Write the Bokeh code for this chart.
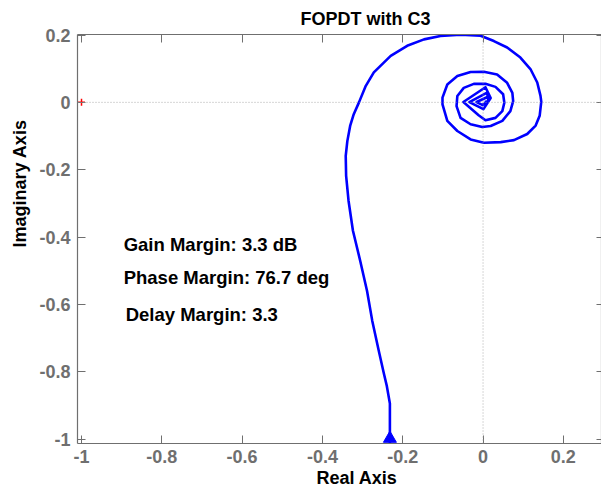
from bokeh.plotting import figure
from bokeh.models import Range1d, LinearAxis, FixedTicker, Span, Title, CustomJSTickFormatter
from bokeh.embed import file_html
from bokeh.resources import INLINE
from bokeh.core.properties import value

# ---- data ----
title_text = "FOPDT with C3"
x_label = "Real Axis"
y_label = "Imaginary Axis"
x_ticks = [-1, -0.8, -0.6, -0.4, -0.2, 0, 0.2]
x_tick_labels = ["-1", "-0.8", "-0.6", "-0.4", "-0.2", "0", "0.2"]
y_ticks = [-1, -0.8, -0.6, -0.4, -0.2, 0, 0.2]
y_tick_labels = ["-1", "-0.8", "-0.6", "-0.4", "-0.2", "0", "0.2"]

nyq_re = [-0.232, -0.232, -0.232, -0.240, -0.247, -0.260, -0.276, -0.289, -0.306, -0.324,
          -0.335, -0.341, -0.342, -0.338, -0.331, -0.322, -0.309, -0.292, -0.272, -0.230,
          -0.189, -0.147, -0.106, -0.056, -0.006, 0.027, 0.060, 0.093, 0.118, 0.135,
          0.143, 0.145, 0.141, 0.131, 0.110, 0.077, 0.044, 0.002, -0.031, -0.064,
          -0.089, -0.101, -0.101, -0.089, -0.064, -0.031, 0.002, 0.035, 0.060, 0.073,
          0.075, 0.068, 0.048, 0.019, -0.002, -0.031, -0.056, -0.066, -0.064, -0.048,
          -0.023, 0.006, 0.031, 0.050, 0.053, 0.048, 0.031, 0.006, -0.011, -0.049,
          0.006, 0.019, 0.001, -0.034, 0.009, 0.016, -0.001, -0.016, 0.011, 0.014, 0.004]
nyq_im = [-1.092, -1.012, -0.894, -0.840, -0.805, -0.736, -0.648, -0.559, -0.470, -0.381,
          -0.292, -0.218, -0.159, -0.115, -0.070, -0.035, 0.000, 0.049, 0.089, 0.138,
          0.168, 0.187, 0.197, 0.201, 0.198, 0.182, 0.163, 0.133, 0.099, 0.059,
          0.020, 0.002, -0.040, -0.069, -0.094, -0.112, -0.118, -0.120, -0.110, -0.085,
          -0.055, -0.006, 0.014, 0.053, 0.078, 0.090, 0.091, 0.083, 0.058, 0.028,
          0.004, -0.026, -0.055, -0.070, -0.073, -0.065, -0.046, -0.011, 0.019, 0.043,
          0.055, 0.055, 0.046, 0.024, -0.001, -0.026, -0.046, -0.053, -0.038, 0.001,
          0.045, 0.013, -0.020, 0.001, 0.028, 0.007, -0.008, 0.001, 0.016, 0.004, 0.001]

arrow_re = [-0.232]
arrow_im = [-0.998]
crit_re = [-1.0]
crit_im = [0.0]

margin_texts = ["Gain Margin: 3.3 dB", "Phase Margin: 76.7 deg", "Delay Margin: 3.3"]
margin_x = [-0.895, -0.895, -0.890]
margin_y = [-0.423, -0.521, -0.631]

# ---- figure ----
FONT = "Liberation Sans"
GREY = "#6f6f6f"

p = figure(width=601, height=491, output_backend="svg", toolbar_location=None,
           x_range=Range1d(-1.010, 0.295), y_range=Range1d(-1.0127, 0.2015),
           title=title_text, min_border_left=77, min_border_right=0,
           min_border_top=34, min_border_bottom=48)
p.background_fill_color = "white"
p.border_fill_color = "white"
p.outline_line_color = None
p.grid.visible = False

p.title.text_font = FONT
p.title.text_font_size = "18px"
p.title.text_font_style = "bold"
p.title.text_color = "black"
p.title.align = "left"
p.title.offset = 223
p.title.standoff = 11

def style_axis(ax, ticks, labels, show_labels=True):
    ax.ticker = FixedTicker(ticks=ticks)
    ax.minor_tick_line_color = None
    ax.major_tick_in = 8
    ax.major_tick_out = 0
    ax.major_tick_line_color = GREY
    ax.axis_line_color = GREY
    ax.axis_line_width = 1.2
    ax.major_label_text_font = FONT
    ax.major_label_text_font_style = "bold"
    ax.major_label_text_color = GREY
    if show_labels:
        ax.major_label_overrides = {t: l for t, l in zip(ticks, labels)}
        ax.major_label_text_font_size = "18px"
        ax.major_label_standoff = 6
    else:
        ax.formatter = CustomJSTickFormatter(code="return ''")
        ax.major_label_text_font_size = "1px"
        ax.major_label_standoff = 0

style_axis(p.xaxis[0], x_ticks, x_tick_labels)
style_axis(p.yaxis[0], y_ticks, y_tick_labels)
p.yaxis[0].major_label_standoff = 7

top_ax = LinearAxis()
style_axis(top_ax, x_ticks, x_tick_labels, show_labels=False)
p.add_layout(top_ax, "above")
right_ax = LinearAxis()
style_axis(right_ax, y_ticks, y_tick_labels, show_labels=False)
right_ax.major_tick_in = 5
p.add_layout(right_ax, "right")

# axis titles, placed along the box as in the reference
xlab = Title(text=x_label, align="left", offset=239, standoff=0,
             text_font=FONT, text_font_size="18px", text_font_style="bold",
             text_color="black")
p.add_layout(xlab, "below")
ylab = Title(text=y_label, align="left", offset=196, standoff=13,
             text_font=FONT, text_font_size="18px", text_font_style="bold",
             text_color="black")
p.add_layout(ylab, "left")

# zero lines
p.add_layout(Span(location=0, dimension="width", line_color="#9a9a9a",
                  line_dash="1 2", line_width=0.8))
p.add_layout(Span(location=0, dimension="height", line_color="#9a9a9a",
                  line_dash="1 2", line_width=0.8))

# critical point
p.scatter(crit_re, crit_im, marker="cross", size=7, line_color="red", line_width=1.5)

# nyquist curve
p.line(nyq_re, nyq_im, line_color="#0000ff", line_width=2.6, line_join="round")
p.scatter(arrow_re, arrow_im, marker="triangle", size=13,
          fill_color="#0000ff", line_color="#0000ff")

# margin annotations
p.text(x=margin_x, y=margin_y, text=margin_texts, text_font=value(FONT),
       text_font_size="18.5px", text_font_style="bold", text_color="black",
       text_baseline="alphabetic", text_align="left")

open("out.html", "w").write(file_html(p, INLINE))
